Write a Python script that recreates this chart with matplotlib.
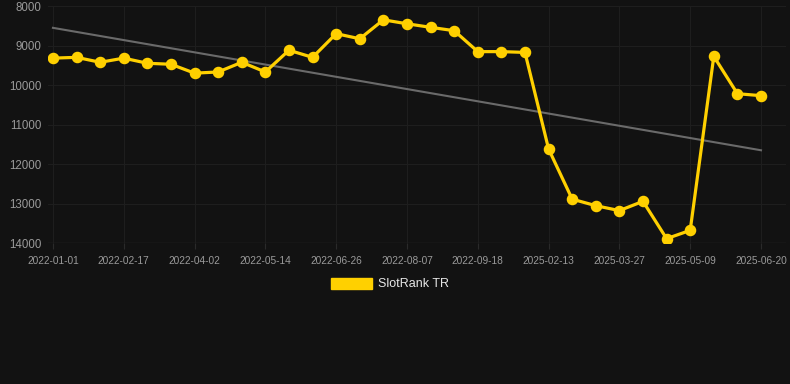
import numpy as np
import matplotlib
matplotlib.use("Agg")
import matplotlib.pyplot as plt
from matplotlib.patches import Patch

plt.rcParams["font.family"] = ["Liberation Sans", "DejaVu Sans"]

dates = ["2022-01-01", "", "", "2022-02-17", "", "", "2022-04-02", "", "", "2022-05-14",
         "", "", "2022-06-26", "", "", "2022-08-07", "", "", "2022-09-18", "", "",
         "2025-02-13", "", "", "2025-03-27", "", "", "2025-05-09", "", "", "2025-06-20"]
ranks = [9320, 9300, 9425, 9320, 9450, 9475, 9700, 9670, 9425, 9670,
         9120, 9300, 8700, 8830, 8350, 8450, 8540, 8625, 9155, 9155,
         9175, 11620, 12890, 13055, 13180, 12945, 13890, 13680, 9275, 10220, 10270]
yticks = [8000, 9000, 10000, 11000, 12000, 13000, 14000]
series_name = "SlotRank TR"

BG = "#121212"
GOLD = "#FFD000"
TXT = "#9a9a9a"
GRID = "#1e1e1e"

W, H = 790, 384
fig = plt.figure(figsize=(W / 100, H / 100), dpi=100, facecolor=BG)
ax = fig.add_axes([48 / W, 1 - 243 / H, (786 - 48) / W, (243 - 6) / H], facecolor=BG)

x = np.arange(len(ranks))
coef = np.polyfit(x, ranks, 1)
trend = np.polyval(coef, x)
ax.plot(x, trend, color="#6a6a6a", lw=1.5, zorder=2)
ax.plot(x, ranks, color=GOLD, lw=2.3, marker="o", ms=7.3, zorder=3)

ax.set_ylim(14000, 8000)
ax.set_xlim(-0.21, 30 + 25 / 23.6)
ax.set_yticks(yticks)
ax.set_yticklabels([str(v) for v in yticks], color=TXT, fontsize=8.3)
tick_pos = [i for i, d in enumerate(dates) if d]
ax.set_xticks(tick_pos)
ax.set_xticklabels([dates[i] for i in tick_pos], color=TXT, fontsize=7.3)
ax.tick_params(axis="y", length=0, pad=5)
ax.tick_params(axis="x", length=4, color="#2a2a2a", pad=5)
ax.grid(True, color=GRID, lw=0.8)
for s in ax.spines.values():
    s.set_visible(False)
ax.axhline(14000, color="#2a2a2a", lw=1, zorder=1)

fig.legend(handles=[Patch(facecolor=GOLD, edgecolor=GOLD, label=series_name)],
           loc="center", bbox_to_anchor=(390 / W, 1 - 284 / H), frameon=False,
           labelcolor="#e6e6e6", fontsize=9, handlelength=3.3, handleheight=1.0,
           handletextpad=0.5)

fig.savefig("out.png", dpi=100, facecolor=BG)
